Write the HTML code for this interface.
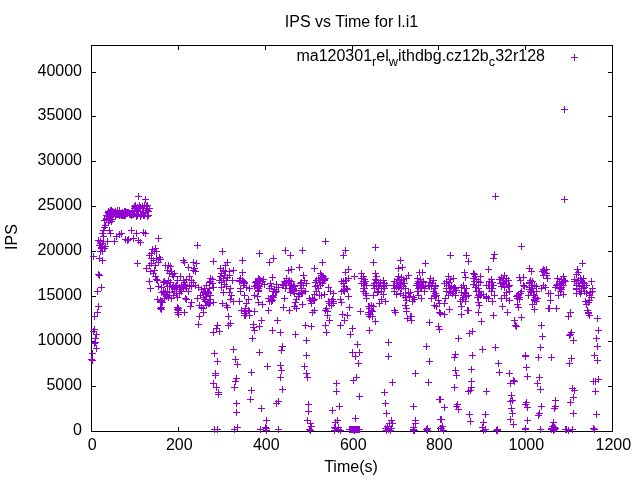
<!DOCTYPE html>
<html><head><meta charset="utf-8"><title>IPS vs Time</title>
<style>
html,body{margin:0;padding:0;background:#fff;}
svg{display:block;will-change:transform;}
text{font-family:"Liberation Sans",sans-serif;font-size:16px;fill:#000;}
</style></head>
<body>
<svg width="640" height="480" viewBox="0 0 640 480">
<rect width="640" height="480" fill="#fff"/>
<path d="M91.5,431.50h4.5M612.5,431.50h-4.5M91.5,386.50h4.5M612.5,386.50h-4.5M91.5,341.50h4.5M612.5,341.50h-4.5M91.5,296.50h4.5M612.5,296.50h-4.5M91.5,251.50h4.5M612.5,251.50h-4.5M91.5,206.50h4.5M612.5,206.50h-4.5M91.5,161.50h4.5M612.5,161.50h-4.5M91.5,116.50h4.5M612.5,116.50h-4.5M91.5,72.50h4.5M612.5,72.50h-4.5M91.50,431.5v-4.5M91.50,45.5v4.5M178.50,431.5v-4.5M178.50,45.5v4.5M265.50,431.5v-4.5M265.50,45.5v4.5M352.50,431.5v-4.5M352.50,45.5v4.5M438.50,431.5v-4.5M438.50,45.5v4.5M525.50,431.5v-4.5M525.50,45.5v4.5M612.50,431.5v-4.5M612.50,45.5v4.5" stroke="#000" stroke-width="1" fill="none"/>
<rect x="91.5" y="45.5" width="521.0" height="386.0" fill="none" stroke="#000" stroke-width="1"/>
<text x="82" y="434.85" text-anchor="end">0</text><text x="82" y="389.85" text-anchor="end">5000</text><text x="82" y="344.85" text-anchor="end">10000</text><text x="82" y="299.85" text-anchor="end">15000</text><text x="82" y="254.85" text-anchor="end">20000</text><text x="82" y="209.85" text-anchor="end">25000</text><text x="82" y="164.85" text-anchor="end">30000</text><text x="82" y="119.85" text-anchor="end">35000</text><text x="82" y="75.85" text-anchor="end">40000</text>
<text x="92.30" y="450" text-anchor="middle">0</text><text x="179.30" y="450" text-anchor="middle">200</text><text x="266.30" y="450" text-anchor="middle">400</text><text x="353.30" y="450" text-anchor="middle">600</text><text x="439.30" y="450" text-anchor="middle">800</text><text x="526.30" y="450" text-anchor="middle">1000</text><text x="613.30" y="450" text-anchor="middle">1200</text>
<text x="351.5" y="26.5" text-anchor="middle">IPS vs Time for l.i1</text>
<text x="545" y="60.5" text-anchor="end">ma120301<tspan font-size="12.8px" dy="5.1">r</tspan><tspan dy="-5.1">el</tspan><tspan font-size="12.8px" dy="5.1">w</tspan><tspan dy="-5.1">ithdbg.cz12b</tspan><tspan font-size="12.8px" dy="5.1">c</tspan><tspan dy="-5.1">32r128</tspan></text>
<text x="351" y="472" text-anchor="middle">Time(s)</text>
<text transform="translate(17,237) rotate(-90)" text-anchor="middle">IPS</text>
<path d="M571,57.5h7M574.5,54v7" stroke="#9400D3" stroke-width="1" fill="none"/>
<path d="M135,196.5h7M138.5,193v7M142,199.5h7M145.5,196v7M97,241.5h7M100.5,238v7M104,241.5h7M107.5,238v7M111,241.5h7M114.5,238v7M99,243.5h7M102.5,240v7M100,236.5h7M103.5,233v7M99,233.5h7M102.5,230v7M100,230.5h7M103.5,227v7M101,227.5h7M104.5,224v7M102,225.5h7M105.5,222v7M106,230.5h7M109.5,227v7M107,233.5h7M110.5,230v7M113,236.5h7M116.5,233v7M116,234.5h7M119.5,231v7M118,233.5h7M121.5,230v7M122,239.5h7M125.5,236v7M124,240.5h7M127.5,237v7M125,239.5h7M128.5,236v7M128,230.5h7M131.5,227v7M130,238.5h7M133.5,235v7M133,233.5h7M136.5,230v7M135,240.5h7M138.5,237v7M137,242.5h7M140.5,239v7M140,232.5h7M143.5,229v7M142,233.5h7M145.5,230v7M155,238.5h7M158.5,235v7M98,248.5h7M101.5,245v7M101,248.5h7M104.5,245v7M149,249.5h7M152.5,246v7M152,248.5h7M155.5,245v7M101,220.5h7M104.5,217v7M103,218.5h7M106.5,215v7M103,215.5h7M106.5,212v7M105,213.5h7M108.5,210v7M105,211.5h7M108.5,208v7M105,212.5h7M108.5,209v7M106,213.5h7M109.5,210v7M106,212.5h7M109.5,209v7M107,213.5h7M110.5,210v7M107,210.5h7M110.5,207v7M108,210.5h7M111.5,207v7M108,214.5h7M111.5,211v7M109,211.5h7M112.5,208v7M109,215.5h7M112.5,212v7M110,212.5h7M113.5,209v7M110,214.5h7M113.5,211v7M111,212.5h7M114.5,209v7M111,213.5h7M114.5,210v7M112,211.5h7M115.5,208v7M112,213.5h7M115.5,210v7M112,215.5h7M115.5,212v7M113,213.5h7M116.5,210v7M113,214.5h7M116.5,211v7M114,214.5h7M117.5,211v7M114,210.5h7M117.5,207v7M115,214.5h7M118.5,211v7M115,213.5h7M118.5,210v7M116,212.5h7M119.5,209v7M116,210.5h7M119.5,207v7M116,215.5h7M119.5,212v7M117,213.5h7M120.5,210v7M117,214.5h7M120.5,211v7M118,215.5h7M121.5,212v7M118,214.5h7M121.5,211v7M119,215.5h7M122.5,212v7M119,212.5h7M122.5,209v7M119,214.5h7M122.5,211v7M120,213.5h7M123.5,210v7M120,215.5h7M123.5,212v7M121,215.5h7M124.5,212v7M121,211.5h7M124.5,208v7M122,211.5h7M125.5,208v7M122,215.5h7M125.5,212v7M123,212.5h7M126.5,209v7M123,213.5h7M126.5,210v7M124,212.5h7M127.5,209v7M124,213.5h7M127.5,210v7M125,212.5h7M128.5,209v7M126,213.5h7M129.5,210v7M126,214.5h7M129.5,211v7M127,213.5h7M130.5,210v7M127,214.5h7M130.5,211v7M128,214.5h7M131.5,211v7M128,215.5h7M131.5,212v7M129,213.5h7M132.5,210v7M129,210.5h7M132.5,207v7M129,214.5h7M132.5,211v7M130,214.5h7M133.5,211v7M131,208.5h7M134.5,205v7M131,206.5h7M134.5,203v7M131,210.5h7M134.5,207v7M132,207.5h7M135.5,204v7M132,205.5h7M135.5,202v7M133,210.5h7M136.5,207v7M133,216.5h7M136.5,213v7M134,215.5h7M137.5,212v7M134,214.5h7M137.5,211v7M134,207.5h7M137.5,204v7M135,211.5h7M138.5,208v7M135,208.5h7M138.5,205v7M136,206.5h7M139.5,203v7M136,205.5h7M139.5,202v7M137,207.5h7M140.5,204v7M137,216.5h7M140.5,213v7M137,214.5h7M140.5,211v7M138,214.5h7M141.5,211v7M139,206.5h7M142.5,203v7M139,208.5h7M142.5,205v7M140,212.5h7M143.5,209v7M140,213.5h7M143.5,210v7M140,215.5h7M143.5,212v7M141,215.5h7M144.5,212v7M141,205.5h7M144.5,202v7M142,212.5h7M145.5,209v7M143,210.5h7M146.5,207v7M143,206.5h7M146.5,203v7M144,210.5h7M147.5,207v7M144,205.5h7M147.5,202v7M144,216.5h7M147.5,213v7M145,215.5h7M148.5,212v7M145,211.5h7M148.5,208v7M146,208.5h7M149.5,205v7M104,216.5h7M107.5,213v7M105,218.5h7M108.5,215v7M106,220.5h7M109.5,217v7M107,217.5h7M110.5,214v7M108,221.5h7M111.5,218v7M109,219.5h7M112.5,216v7M105,222.5h7M108.5,219v7M103,219.5h7M106.5,216v7M95,240.5h7M98.5,237v7M97,243.5h7M100.5,240v7M100,241.5h7M103.5,238v7M102,246.5h7M105.5,243v7M98,247.5h7M101.5,244v7M96,245.5h7M99.5,242v7M90,256.5h7M93.5,253v7M97,251.5h7M100.5,248v7M99,251.5h7M102.5,248v7M96,258.5h7M99.5,255v7M99,260.5h7M102.5,257v7M95,274.5h7M98.5,271v7M96,275.5h7M99.5,272v7M98,287.5h7M101.5,284v7M94,291.5h7M97.5,288v7M95,306.5h7M98.5,303v7M134,263.5h7M137.5,260v7M146,255.5h7M149.5,252v7M148,253.5h7M151.5,250v7M151,251.5h7M154.5,248v7M153,251.5h7M156.5,248v7M148,258.5h7M151.5,255v7M150,260.5h7M153.5,257v7M153,258.5h7M156.5,255v7M156,257.5h7M159.5,254v7M157,259.5h7M160.5,256v7M146,265.5h7M149.5,262v7M143,268.5h7M146.5,265v7M148,263.5h7M151.5,260v7M152,265.5h7M155.5,262v7M155,262.5h7M158.5,259v7M147,271.5h7M150.5,268v7M150,273.5h7M153.5,270v7M151,270.5h7M154.5,267v7M162,265.5h7M165.5,262v7M164,270.5h7M167.5,267v7M152,276.5h7M155.5,273v7M153,279.5h7M156.5,276v7M154,280.5h7M157.5,277v7M146,281.5h7M149.5,278v7M147,288.5h7M150.5,285v7M155,286.5h7M158.5,283v7M158,287.5h7M161.5,284v7M160,282.5h7M163.5,279v7M161,281.5h7M164.5,278v7M163,283.5h7M166.5,280v7M164,286.5h7M167.5,283v7M160,291.5h7M163.5,288v7M161,293.5h7M164.5,290v7M163,296.5h7M166.5,293v7M164,292.5h7M167.5,289v7M154,299.5h7M157.5,296v7M157,300.5h7M160.5,297v7M159,302.5h7M162.5,299v7M158,307.5h7M161.5,304v7M157,308.5h7M160.5,305v7M161,298.5h7M164.5,295v7M94,312.5h7M97.5,309v7M91,316.5h7M94.5,313v7M91,329.5h7M94.5,326v7M90,331.5h7M93.5,328v7M93,334.5h7M96.5,331v7M92,338.5h7M95.5,335v7M92,342.5h7M95.5,339v7M91,343.5h7M94.5,340v7M93,348.5h7M96.5,345v7M89,353.5h7M92.5,350v7M89,360.5h7M92.5,357v7M88,359.5h7M91.5,356v7M194,245.5h7M197.5,242v7M219,251.5h7M222.5,248v7M210,261.5h7M213.5,258v7M165,265.5h7M168.5,262v7M167,266.5h7M170.5,263v7M180,260.5h7M183.5,257v7M181,262.5h7M184.5,259v7M185,267.5h7M188.5,264v7M190,262.5h7M193.5,259v7M193,263.5h7M196.5,260v7M191,268.5h7M194.5,265v7M192,271.5h7M195.5,268v7M190,270.5h7M193.5,267v7M168,271.5h7M171.5,268v7M171,273.5h7M174.5,270v7M166,273.5h7M169.5,270v7M170,276.5h7M173.5,273v7M177,276.5h7M180.5,273v7M174,280.5h7M177.5,277v7M165,280.5h7M168.5,277v7M167,282.5h7M170.5,279v7M186,276.5h7M189.5,273v7M183,279.5h7M186.5,276v7M188,280.5h7M191.5,277v7M190,282.5h7M193.5,279v7M181,282.5h7M184.5,279v7M178,285.5h7M181.5,282v7M176,287.5h7M179.5,284v7M182,286.5h7M185.5,283v7M186,285.5h7M189.5,282v7M188,286.5h7M191.5,283v7M192,285.5h7M195.5,282v7M195,287.5h7M198.5,284v7M183,288.5h7M186.5,285v7M180,288.5h7M183.5,285v7M173,285.5h7M176.5,282v7M170,285.5h7M173.5,282v7M166,286.5h7M169.5,283v7M171,288.5h7M174.5,285v7M207,278.5h7M210.5,275v7M209,279.5h7M212.5,276v7M206,282.5h7M209.5,279v7M209,283.5h7M212.5,280v7M203,285.5h7M206.5,282v7M206,288.5h7M209.5,285v7M201,288.5h7M204.5,285v7M198,289.5h7M201.5,286v7M210,287.5h7M213.5,284v7M224,262.5h7M227.5,259v7M222,265.5h7M225.5,262v7M217,268.5h7M220.5,265v7M220,270.5h7M223.5,267v7M222,271.5h7M225.5,268v7M218,273.5h7M221.5,270v7M221,275.5h7M224.5,272v7M217,276.5h7M220.5,273v7M220,278.5h7M223.5,275v7M223,280.5h7M226.5,277v7M218,282.5h7M221.5,279v7M221,284.5h7M224.5,281v7M223,286.5h7M226.5,283v7M218,287.5h7M221.5,284v7M216,280.5h7M219.5,277v7M224,277.5h7M227.5,274v7M157,301.5h7M160.5,298v7M158,302.5h7M161.5,299v7M158,309.5h7M161.5,306v7M158,292.5h7M161.5,289v7M161,294.5h7M164.5,291v7M163,295.5h7M166.5,292v7M166,292.5h7M169.5,289v7M165,297.5h7M168.5,294v7M168,298.5h7M171.5,295v7M170,295.5h7M173.5,292v7M173,293.5h7M176.5,290v7M174,297.5h7M177.5,294v7M176,293.5h7M179.5,290v7M178,291.5h7M181.5,288v7M171,291.5h7M174.5,288v7M162,291.5h7M165.5,288v7M182,298.5h7M185.5,295v7M183,299.5h7M186.5,296v7M188,302.5h7M191.5,299v7M187,306.5h7M190.5,303v7M185,291.5h7M188.5,288v7M174,307.5h7M177.5,304v7M175,308.5h7M178.5,305v7M175,310.5h7M178.5,307v7M175,314.5h7M178.5,311v7M181,312.5h7M184.5,309v7M194,298.5h7M197.5,295v7M197,295.5h7M200.5,292v7M200,292.5h7M203.5,289v7M202,291.5h7M205.5,288v7M205,293.5h7M208.5,290v7M207,295.5h7M210.5,292v7M203,296.5h7M206.5,293v7M200,297.5h7M203.5,294v7M201,299.5h7M204.5,296v7M206,299.5h7M209.5,296v7M207,302.5h7M210.5,299v7M210,302.5h7M213.5,299v7M205,303.5h7M208.5,300v7M203,305.5h7M206.5,302v7M196,305.5h7M199.5,302v7M198,307.5h7M201.5,304v7M200,308.5h7M203.5,305v7M200,312.5h7M203.5,309v7M196,316.5h7M199.5,313v7M195,324.5h7M198.5,321v7M220,292.5h7M223.5,289v7M219,303.5h7M222.5,300v7M223,305.5h7M226.5,302v7M224,307.5h7M227.5,304v7M225,316.5h7M228.5,313v7M225,325.5h7M228.5,322v7M214,325.5h7M217.5,322v7M213,328.5h7M216.5,325v7M210,332.5h7M213.5,329v7M216,331.5h7M219.5,328v7M211,353.5h7M214.5,350v7M214,361.5h7M217.5,358v7M212,373.5h7M215.5,370v7M212,375.5h7M215.5,372v7M210,383.5h7M213.5,380v7M213,387.5h7M216.5,384v7M215,392.5h7M218.5,389v7M215,394.5h7M218.5,391v7M230,349.5h7M233.5,346v7M232,359.5h7M235.5,356v7M234,364.5h7M237.5,361v7M233,378.5h7M236.5,375v7M232,381.5h7M235.5,378v7M231,387.5h7M234.5,384v7M256,352.5h7M259.5,349v7M248,372.5h7M251.5,369v7M248,390.5h7M251.5,387v7M247,399.5h7M250.5,396v7M264,366.5h7M267.5,363v7M233,403.5h7M236.5,400v7M233,412.5h7M236.5,409v7M258,408.5h7M261.5,405v7M263,420.5h7M266.5,417v7M211,429.5h7M214.5,426v7M214,429.5h7M217.5,426v7M231,429.5h7M234.5,426v7M234,427.5h7M237.5,424v7M257,429.5h7M260.5,426v7M262,427.5h7M265.5,424v7M263,428.5h7M266.5,425v7M263,430.5h7M266.5,427v7M275,429.5h7M278.5,426v7M275,401.5h7M278.5,398v7M273,403.5h7M276.5,400v7M279,346.5h7M282.5,343v7M278,350.5h7M281.5,347v7M277,365.5h7M280.5,362v7M278,370.5h7M281.5,367v7M277,377.5h7M280.5,374v7M279,389.5h7M282.5,386v7M303,340.5h7M306.5,337v7M303,355.5h7M306.5,352v7M301,366.5h7M304.5,363v7M303,373.5h7M306.5,370v7M304,377.5h7M307.5,374v7M333,383.5h7M336.5,380v7M333,391.5h7M336.5,388v7M354,344.5h7M357.5,341v7M349,352.5h7M352.5,349v7M352,356.5h7M355.5,353v7M356,352.5h7M359.5,349v7M355,363.5h7M358.5,360v7M353,377.5h7M356.5,374v7M350,380.5h7M353.5,377v7M356,396.5h7M359.5,393v7M305,404.5h7M308.5,401v7M305,411.5h7M308.5,408v7M304,420.5h7M307.5,417v7M307,423.5h7M310.5,420v7M308,426.5h7M311.5,423v7M306,429.5h7M309.5,426v7M307,430.5h7M310.5,427v7M336,406.5h7M339.5,403v7M329,410.5h7M332.5,407v7M334,420.5h7M337.5,417v7M332,422.5h7M335.5,419v7M332,428.5h7M335.5,425v7M331,430.5h7M334.5,427v7M335,427.5h7M338.5,424v7M337,430.5h7M340.5,427v7M335,429.5h7M338.5,426v7M352,418.5h7M355.5,415v7M346,429.5h7M349.5,426v7M347,429.5h7M350.5,426v7M348,429.5h7M351.5,426v7M349,429.5h7M352.5,426v7M350,429.5h7M353.5,426v7M351,429.5h7M354.5,426v7M352,429.5h7M355.5,426v7M353,429.5h7M356.5,426v7M354,429.5h7M357.5,426v7M355,429.5h7M358.5,426v7M356,429.5h7M359.5,426v7M385,342.5h7M388.5,339v7M385,356.5h7M388.5,353v7M389,382.5h7M392.5,379v7M381,392.5h7M384.5,389v7M423,346.5h7M426.5,343v7M426,361.5h7M429.5,358v7M412,373.5h7M415.5,370v7M425,382.5h7M428.5,379v7M436,399.5h7M439.5,396v7M382,403.5h7M385.5,400v7M383,413.5h7M386.5,410v7M388,420.5h7M391.5,417v7M389,423.5h7M392.5,420v7M386,423.5h7M389.5,420v7M384,426.5h7M387.5,423v7M382,428.5h7M385.5,425v7M385,429.5h7M388.5,426v7M387,430.5h7M390.5,427v7M383,430.5h7M386.5,427v7M410,406.5h7M413.5,403v7M412,420.5h7M415.5,417v7M412,423.5h7M415.5,420v7M410,427.5h7M413.5,424v7M410,430.5h7M413.5,427v7M411,430.5h7M414.5,427v7M424,428.5h7M427.5,425v7M424,430.5h7M427.5,427v7M423,429.5h7M426.5,426v7M437,419.5h7M440.5,416v7M437,428.5h7M440.5,425v7M452,354.5h7M455.5,351v7M451,357.5h7M454.5,354v7M452,370.5h7M455.5,367v7M453,375.5h7M456.5,372v7M451,387.5h7M454.5,384v7M437,399.5h7M440.5,396v7M469,355.5h7M472.5,352v7M468,369.5h7M471.5,366v7M468,381.5h7M471.5,378v7M468,387.5h7M471.5,384v7M465,391.5h7M468.5,388v7M467,390.5h7M470.5,387v7M479,349.5h7M482.5,346v7M492,347.5h7M495.5,344v7M495,363.5h7M498.5,360v7M496,372.5h7M499.5,369v7M483,391.5h7M486.5,388v7M506,373.5h7M509.5,370v7M510,380.5h7M513.5,377v7M511,381.5h7M514.5,378v7M507,383.5h7M510.5,380v7M508,395.5h7M511.5,392v7M441,407.5h7M444.5,404v7M438,419.5h7M441.5,416v7M439,426.5h7M442.5,423v7M438,428.5h7M441.5,425v7M440,430.5h7M443.5,427v7M454,404.5h7M457.5,401v7M453,406.5h7M456.5,403v7M455,409.5h7M458.5,406v7M466,414.5h7M469.5,411v7M467,421.5h7M470.5,418v7M482,414.5h7M485.5,411v7M480,422.5h7M483.5,419v7M479,427.5h7M482.5,424v7M482,429.5h7M485.5,426v7M480,430.5h7M483.5,427v7M494,429.5h7M497.5,426v7M494,430.5h7M497.5,427v7M493,430.5h7M496.5,427v7M507,401.5h7M510.5,398v7M509,400.5h7M512.5,397v7M508,408.5h7M511.5,405v7M509,413.5h7M512.5,410v7M507,419.5h7M510.5,416v7M510,424.5h7M513.5,421v7M522,355.5h7M525.5,352v7M522,356.5h7M525.5,353v7M523,367.5h7M526.5,364v7M524,376.5h7M527.5,373v7M537,347.5h7M540.5,344v7M535,357.5h7M538.5,354v7M536,377.5h7M539.5,374v7M534,383.5h7M537.5,380v7M537,389.5h7M540.5,386v7M548,357.5h7M551.5,354v7M570,340.5h7M573.5,337v7M568,358.5h7M571.5,355v7M566,363.5h7M569.5,360v7M569,388.5h7M572.5,385v7M571,390.5h7M574.5,387v7M570,397.5h7M573.5,394v7M594,346.5h7M597.5,343v7M591,355.5h7M594.5,352v7M594,360.5h7M597.5,357v7M590,381.5h7M593.5,378v7M592,381.5h7M595.5,378v7M595,379.5h7M598.5,376v7M592,391.5h7M595.5,388v7M523,402.5h7M526.5,399v7M522,404.5h7M525.5,401v7M524,407.5h7M527.5,404v7M524,420.5h7M527.5,417v7M522,429.5h7M525.5,426v7M522,428.5h7M525.5,425v7M538,406.5h7M541.5,403v7M536,413.5h7M539.5,410v7M535,415.5h7M538.5,412v7M537,429.5h7M540.5,426v7M552,400.5h7M555.5,397v7M552,406.5h7M555.5,403v7M551,408.5h7M554.5,405v7M550,422.5h7M553.5,419v7M549,426.5h7M552.5,423v7M551,427.5h7M554.5,424v7M548,429.5h7M551.5,426v7M550,430.5h7M553.5,427v7M552,428.5h7M555.5,425v7M567,402.5h7M570.5,399v7M570,413.5h7M573.5,410v7M562,429.5h7M565.5,426v7M563,429.5h7M566.5,426v7M565,430.5h7M568.5,427v7M569,429.5h7M572.5,426v7M593,414.5h7M596.5,411v7M590,428.5h7M593.5,425v7M591,429.5h7M594.5,426v7M568,332.5h7M571.5,329v7M566,335.5h7M569.5,332v7M567,334.5h7M570.5,331v7M595,330.5h7M598.5,327v7M593,338.5h7M596.5,335v7M594,318.5h7M597.5,315v7M256,253.5h7M259.5,250v7M239,260.5h7M242.5,257v7M270,258.5h7M273.5,255v7M266,262.5h7M269.5,259v7M282,250.5h7M285.5,247v7M287,255.5h7M290.5,252v7M299,250.5h7M302.5,247v7M296,267.5h7M299.5,264v7M288,269.5h7M291.5,266v7M285,270.5h7M288.5,267v7M269,277.5h7M272.5,274v7M300,275.5h7M303.5,272v7M230,270.5h7M233.5,267v7M239,272.5h7M242.5,269v7M229,280.5h7M232.5,277v7M226,275.5h7M229.5,272v7M237,278.5h7M240.5,275v7M239,280.5h7M242.5,277v7M236,281.5h7M239.5,278v7M241,282.5h7M244.5,279v7M240,285.5h7M243.5,282v7M243,287.5h7M246.5,284v7M246,288.5h7M249.5,285v7M237,288.5h7M240.5,285v7M255,278.5h7M258.5,275v7M253,281.5h7M256.5,278v7M257,280.5h7M260.5,277v7M260,279.5h7M263.5,276v7M259,281.5h7M262.5,278v7M256,283.5h7M259.5,280v7M253,285.5h7M256.5,282v7M261,284.5h7M264.5,281v7M251,286.5h7M254.5,283v7M255,288.5h7M258.5,285v7M267,283.5h7M270.5,280v7M273,284.5h7M276.5,281v7M268,286.5h7M271.5,283v7M275,287.5h7M278.5,284v7M266,288.5h7M269.5,285v7M271,289.5h7M274.5,286v7M283,278.5h7M286.5,275v7M286,280.5h7M289.5,277v7M281,281.5h7M284.5,278v7M285,282.5h7M288.5,279v7M288,281.5h7M291.5,278v7M283,285.5h7M286.5,282v7M287,285.5h7M290.5,282v7M280,285.5h7M283.5,282v7M290,285.5h7M293.5,282v7M282,288.5h7M285.5,285v7M286,288.5h7M289.5,285v7M290,288.5h7M293.5,285v7M298,282.5h7M301.5,279v7M301,280.5h7M304.5,277v7M297,285.5h7M300.5,282v7M300,285.5h7M303.5,282v7M303,283.5h7M306.5,280v7M298,288.5h7M301.5,285v7M227,288.5h7M230.5,285v7M226,271.5h7M229.5,268v7M226,292.5h7M229.5,289v7M228,295.5h7M231.5,292v7M227,299.5h7M230.5,296v7M230,301.5h7M233.5,298v7M227,323.5h7M230.5,320v7M237,291.5h7M240.5,288v7M241,295.5h7M244.5,292v7M236,301.5h7M239.5,298v7M238,310.5h7M241.5,307v7M245,299.5h7M248.5,296v7M243,303.5h7M246.5,300v7M242,308.5h7M245.5,305v7M245,310.5h7M248.5,307v7M243,313.5h7M246.5,310v7M246,315.5h7M249.5,312v7M241,313.5h7M244.5,310v7M251,311.5h7M254.5,308v7M251,295.5h7M254.5,292v7M254,296.5h7M257.5,293v7M255,302.5h7M258.5,299v7M255,291.5h7M258.5,288v7M259,304.5h7M262.5,301v7M265,298.5h7M268.5,295v7M266,301.5h7M269.5,298v7M268,299.5h7M271.5,296v7M270,295.5h7M273.5,292v7M272,292.5h7M275.5,289v7M273,291.5h7M276.5,288v7M269,296.5h7M272.5,293v7M265,310.5h7M268.5,307v7M281,298.5h7M284.5,295v7M280,307.5h7M283.5,304v7M286,310.5h7M289.5,307v7M287,292.5h7M290.5,289v7M290,291.5h7M293.5,288v7M293,308.5h7M296.5,305v7M291,306.5h7M294.5,303v7M292,302.5h7M295.5,299v7M293,299.5h7M296.5,296v7M295,296.5h7M298.5,293v7M296,294.5h7M299.5,291v7M298,292.5h7M301.5,289v7M299,304.5h7M302.5,301v7M302,291.5h7M305.5,288v7M258,320.5h7M261.5,317v7M250,324.5h7M253.5,321v7M250,327.5h7M253.5,324v7M256,326.5h7M259.5,323v7M251,330.5h7M254.5,327v7M249,338.5h7M252.5,335v7M269,330.5h7M272.5,327v7M274,320.5h7M277.5,317v7M277,332.5h7M280.5,329v7M292,334.5h7M295.5,331v7M302,325.5h7M305.5,322v7M322,241.5h7M325.5,238v7M342,250.5h7M345.5,247v7M340,255.5h7M343.5,252v7M372,247.5h7M375.5,244v7M319,262.5h7M322.5,259v7M311,268.5h7M314.5,265v7M370,262.5h7M373.5,259v7M345,269.5h7M348.5,266v7M342,272.5h7M345.5,269v7M351,276.5h7M354.5,273v7M358,273.5h7M361.5,270v7M372,273.5h7M375.5,270v7M318,275.5h7M321.5,272v7M315,278.5h7M318.5,275v7M320,278.5h7M323.5,275v7M313,280.5h7M316.5,277v7M317,280.5h7M320.5,277v7M321,280.5h7M324.5,277v7M312,282.5h7M315.5,279v7M316,282.5h7M319.5,279v7M319,283.5h7M322.5,280v7M314,285.5h7M317.5,282v7M317,285.5h7M320.5,282v7M312,286.5h7M315.5,283v7M315,288.5h7M318.5,285v7M325,287.5h7M328.5,284v7M322,278.5h7M325.5,275v7M345,278.5h7M348.5,275v7M342,280.5h7M345.5,277v7M340,281.5h7M343.5,278v7M338,281.5h7M341.5,278v7M343,280.5h7M346.5,277v7M341,286.5h7M344.5,283v7M343,288.5h7M346.5,285v7M341,289.5h7M344.5,286v7M340,283.5h7M343.5,280v7M360,276.5h7M363.5,273v7M358,278.5h7M361.5,275v7M361,279.5h7M364.5,276v7M360,281.5h7M363.5,278v7M362,281.5h7M365.5,278v7M358,283.5h7M361.5,280v7M361,285.5h7M364.5,282v7M363,285.5h7M366.5,282v7M360,288.5h7M363.5,285v7M361,288.5h7M364.5,285v7M373,276.5h7M376.5,273v7M372,279.5h7M375.5,276v7M380,280.5h7M383.5,277v7M377,282.5h7M380.5,279v7M375,283.5h7M378.5,280v7M371,283.5h7M374.5,280v7M381,283.5h7M384.5,280v7M370,285.5h7M373.5,282v7M373,286.5h7M376.5,283v7M376,285.5h7M379.5,282v7M380,286.5h7M383.5,283v7M383,285.5h7M386.5,282v7M371,288.5h7M374.5,285v7M375,288.5h7M378.5,285v7M378,288.5h7M381.5,285v7M381,288.5h7M384.5,285v7M313,291.5h7M316.5,288v7M311,294.5h7M314.5,291v7M316,295.5h7M319.5,292v7M318,295.5h7M321.5,292v7M321,294.5h7M324.5,291v7M309,298.5h7M312.5,295v7M311,299.5h7M314.5,296v7M307,300.5h7M310.5,297v7M308,303.5h7M311.5,300v7M311,310.5h7M314.5,307v7M309,312.5h7M312.5,309v7M308,326.5h7M311.5,323v7M327,291.5h7M330.5,288v7M330,293.5h7M333.5,290v7M325,301.5h7M328.5,298v7M328,301.5h7M331.5,298v7M330,301.5h7M333.5,298v7M326,303.5h7M329.5,300v7M328,305.5h7M331.5,302v7M323,308.5h7M326.5,305v7M322,310.5h7M325.5,307v7M324,311.5h7M327.5,308v7M324,315.5h7M327.5,312v7M326,320.5h7M329.5,317v7M322,325.5h7M325.5,322v7M323,332.5h7M326.5,329v7M338,291.5h7M341.5,288v7M341,291.5h7M344.5,288v7M337,299.5h7M340.5,296v7M338,302.5h7M341.5,299v7M345,296.5h7M348.5,293v7M339,314.5h7M342.5,311v7M344,315.5h7M347.5,312v7M346,307.5h7M349.5,304v7M341,320.5h7M344.5,317v7M337,325.5h7M340.5,322v7M349,328.5h7M352.5,325v7M347,334.5h7M350.5,331v7M360,291.5h7M363.5,288v7M362,293.5h7M365.5,290v7M363,295.5h7M366.5,292v7M363,298.5h7M366.5,295v7M370,295.5h7M373.5,292v7M375,291.5h7M378.5,288v7M378,291.5h7M381.5,288v7M380,294.5h7M383.5,291v7M378,299.5h7M381.5,296v7M382,301.5h7M385.5,298v7M376,303.5h7M379.5,300v7M357,311.5h7M360.5,308v7M366,306.5h7M369.5,303v7M368,305.5h7M371.5,302v7M370,306.5h7M373.5,303v7M366,308.5h7M369.5,305v7M368,310.5h7M371.5,307v7M365,312.5h7M368.5,309v7M367,314.5h7M370.5,311v7M369,316.5h7M372.5,313v7M366,316.5h7M369.5,313v7M372,321.5h7M375.5,318v7M366,330.5h7M369.5,327v7M397,260.5h7M400.5,257v7M422,263.5h7M425.5,260v7M447,255.5h7M450.5,252v7M463,255.5h7M466.5,252v7M399,267.5h7M402.5,264v7M395,268.5h7M398.5,265v7M405,275.5h7M408.5,272v7M419,272.5h7M422.5,269v7M416,272.5h7M419.5,269v7M461,272.5h7M464.5,269v7M462,277.5h7M465.5,274v7M395,276.5h7M398.5,273v7M398,277.5h7M401.5,274v7M394,279.5h7M397.5,276v7M396,280.5h7M399.5,277v7M400,279.5h7M403.5,276v7M391,281.5h7M394.5,278v7M393,283.5h7M396.5,280v7M397,283.5h7M400.5,280v7M401,283.5h7M404.5,280v7M390,285.5h7M393.5,282v7M393,286.5h7M396.5,283v7M396,286.5h7M399.5,283v7M400,286.5h7M403.5,283v7M403,278.5h7M406.5,275v7M398,288.5h7M401.5,285v7M391,288.5h7M394.5,285v7M402,288.5h7M405.5,285v7M414,278.5h7M417.5,275v7M417,279.5h7M420.5,276v7M415,281.5h7M418.5,278v7M418,282.5h7M421.5,279v7M420,281.5h7M423.5,278v7M413,285.5h7M416.5,282v7M416,285.5h7M419.5,282v7M419,285.5h7M422.5,282v7M422,285.5h7M425.5,282v7M415,288.5h7M418.5,285v7M418,288.5h7M421.5,285v7M421,288.5h7M424.5,285v7M427,278.5h7M430.5,275v7M430,280.5h7M433.5,277v7M426,282.5h7M429.5,279v7M429,283.5h7M432.5,280v7M432,286.5h7M435.5,283v7M428,286.5h7M431.5,283v7M425,285.5h7M428.5,282v7M431,288.5h7M434.5,285v7M445,276.5h7M448.5,273v7M450,278.5h7M453.5,275v7M447,279.5h7M450.5,276v7M443,281.5h7M446.5,278v7M446,282.5h7M449.5,279v7M441,283.5h7M444.5,280v7M445,285.5h7M448.5,282v7M448,286.5h7M451.5,283v7M450,288.5h7M453.5,285v7M443,288.5h7M446.5,285v7M452,288.5h7M455.5,285v7M446,288.5h7M449.5,285v7M460,285.5h7M463.5,282v7M458,287.5h7M461.5,284v7M461,288.5h7M464.5,285v7M463,288.5h7M466.5,285v7M391,291.5h7M394.5,288v7M393,294.5h7M396.5,291v7M397,293.5h7M400.5,290v7M400,295.5h7M403.5,292v7M402,297.5h7M405.5,294v7M405,293.5h7M408.5,290v7M407,292.5h7M410.5,289v7M406,296.5h7M409.5,293v7M410,297.5h7M413.5,294v7M411,299.5h7M414.5,296v7M403,300.5h7M406.5,297v7M409,301.5h7M412.5,298v7M402,305.5h7M405.5,302v7M403,308.5h7M406.5,305v7M403,311.5h7M406.5,308v7M415,295.5h7M418.5,292v7M418,298.5h7M421.5,295v7M421,291.5h7M424.5,288v7M414,291.5h7M417.5,288v7M391,310.5h7M394.5,307v7M392,312.5h7M395.5,309v7M404,318.5h7M407.5,315v7M407,316.5h7M410.5,313v7M408,316.5h7M411.5,313v7M408,320.5h7M411.5,317v7M428,298.5h7M431.5,295v7M431,295.5h7M434.5,292v7M433,295.5h7M436.5,292v7M430,291.5h7M433.5,288v7M435,300.5h7M438.5,297v7M436,303.5h7M439.5,300v7M431,305.5h7M434.5,302v7M433,306.5h7M436.5,303v7M436,312.5h7M439.5,309v7M437,313.5h7M440.5,310v7M441,314.5h7M444.5,311v7M441,303.5h7M444.5,300v7M446,309.5h7M449.5,306v7M442,298.5h7M445.5,295v7M445,295.5h7M448.5,292v7M447,292.5h7M450.5,289v7M450,291.5h7M453.5,288v7M452,295.5h7M455.5,292v7M443,291.5h7M446.5,288v7M458,292.5h7M461.5,289v7M461,293.5h7M464.5,290v7M460,297.5h7M463.5,294v7M457,301.5h7M460.5,298v7M458,306.5h7M461.5,303v7M462,301.5h7M465.5,298v7M463,296.5h7M466.5,293v7M458,314.5h7M461.5,311v7M464,310.5h7M467.5,307v7M426,322.5h7M429.5,319v7M435,326.5h7M438.5,323v7M436,329.5h7M439.5,326v7M455,338.5h7M458.5,335v7M518,246.5h7M521.5,243v7M491,254.5h7M494.5,251v7M490,258.5h7M493.5,255v7M465,261.5h7M468.5,258v7M485,269.5h7M488.5,266v7M526,268.5h7M529.5,265v7M528,271.5h7M531.5,268v7M470,273.5h7M473.5,270v7M472,276.5h7M475.5,273v7M477,276.5h7M480.5,273v7M470,278.5h7M473.5,275v7M473,279.5h7M476.5,276v7M471,281.5h7M474.5,278v7M475,281.5h7M478.5,278v7M470,284.5h7M473.5,281v7M473,285.5h7M476.5,282v7M477,282.5h7M480.5,279v7M472,287.5h7M475.5,284v7M475,288.5h7M478.5,285v7M488,279.5h7M491.5,276v7M486,281.5h7M489.5,278v7M489,282.5h7M492.5,279v7M485,285.5h7M488.5,282v7M488,285.5h7M491.5,282v7M490,285.5h7M493.5,282v7M486,288.5h7M489.5,285v7M489,288.5h7M492.5,285v7M483,285.5h7M486.5,282v7M501,275.5h7M504.5,272v7M498,277.5h7M501.5,274v7M500,278.5h7M503.5,275v7M503,278.5h7M506.5,275v7M496,279.5h7M499.5,276v7M499,280.5h7M502.5,277v7M502,281.5h7M505.5,278v7M505,280.5h7M508.5,277v7M497,283.5h7M500.5,280v7M500,283.5h7M503.5,280v7M503,284.5h7M506.5,281v7M498,286.5h7M501.5,283v7M501,287.5h7M504.5,284v7M505,286.5h7M508.5,283v7M506,285.5h7M509.5,282v7M516,277.5h7M519.5,274v7M520,277.5h7M523.5,274v7M517,280.5h7M520.5,277v7M520,285.5h7M523.5,282v7M521,286.5h7M524.5,283v7M527,280.5h7M530.5,277v7M529,281.5h7M532.5,278v7M526,283.5h7M529.5,280v7M528,285.5h7M531.5,282v7M531,285.5h7M534.5,282v7M533,286.5h7M536.5,283v7M526,287.5h7M529.5,284v7M529,288.5h7M532.5,285v7M541,270.5h7M544.5,267v7M543,269.5h7M546.5,266v7M539,271.5h7M542.5,268v7M541,272.5h7M544.5,269v7M543,273.5h7M546.5,270v7M540,275.5h7M543.5,272v7M543,275.5h7M546.5,272v7M544,278.5h7M547.5,275v7M540,285.5h7M543.5,282v7M542,287.5h7M545.5,284v7M538,288.5h7M541.5,285v7M473,291.5h7M476.5,288v7M476,291.5h7M479.5,288v7M475,295.5h7M478.5,292v7M477,295.5h7M480.5,292v7M474,297.5h7M477.5,294v7M480,294.5h7M483.5,291v7M483,296.5h7M486.5,293v7M485,298.5h7M488.5,295v7M483,298.5h7M486.5,295v7M488,291.5h7M491.5,288v7M491,295.5h7M494.5,292v7M489,301.5h7M492.5,298v7M475,302.5h7M478.5,299v7M476,305.5h7M479.5,302v7M475,312.5h7M478.5,309v7M465,295.5h7M468.5,292v7M465,310.5h7M468.5,307v7M469,331.5h7M472.5,328v7M466,333.5h7M469.5,330v7M478,321.5h7M481.5,318v7M490,315.5h7M493.5,312v7M499,306.5h7M502.5,303v7M504,312.5h7M507.5,309v7M498,298.5h7M501.5,295v7M501,295.5h7M504.5,292v7M503,292.5h7M506.5,289v7M506,291.5h7M509.5,288v7M503,298.5h7M506.5,295v7M506,300.5h7M509.5,297v7M513,296.5h7M516.5,293v7M515,295.5h7M518.5,292v7M517,293.5h7M520.5,290v7M516,297.5h7M519.5,294v7M518,291.5h7M521.5,288v7M514,304.5h7M517.5,301v7M515,307.5h7M518.5,304v7M518,317.5h7M521.5,314v7M511,320.5h7M514.5,317v7M512,325.5h7M515.5,322v7M513,326.5h7M516.5,323v7M525,295.5h7M528.5,292v7M527,291.5h7M530.5,288v7M530,291.5h7M533.5,288v7M533,291.5h7M536.5,288v7M530,295.5h7M533.5,292v7M532,297.5h7M535.5,294v7M534,298.5h7M537.5,295v7M531,300.5h7M534.5,297v7M533,301.5h7M536.5,298v7M529,304.5h7M532.5,301v7M531,309.5h7M534.5,306v7M538,325.5h7M541.5,322v7M539,336.5h7M542.5,333v7M545,293.5h7M548.5,290v7M545,308.5h7M548.5,305v7M579,263.5h7M582.5,260v7M574,269.5h7M577.5,266v7M575,272.5h7M578.5,269v7M573,274.5h7M576.5,271v7M560,276.5h7M563.5,273v7M554,278.5h7M557.5,275v7M558,279.5h7M561.5,276v7M561,280.5h7M564.5,277v7M556,281.5h7M559.5,278v7M559,282.5h7M562.5,279v7M553,285.5h7M556.5,282v7M557,285.5h7M560.5,282v7M560,285.5h7M563.5,282v7M552,287.5h7M555.5,284v7M556,288.5h7M559.5,285v7M558,287.5h7M561.5,284v7M577,278.5h7M580.5,275v7M580,278.5h7M583.5,275v7M575,280.5h7M578.5,277v7M578,280.5h7M581.5,277v7M571,281.5h7M574.5,278v7M575,283.5h7M578.5,280v7M579,282.5h7M582.5,279v7M581,283.5h7M584.5,280v7M573,285.5h7M576.5,282v7M576,286.5h7M579.5,283v7M580,285.5h7M583.5,282v7M583,285.5h7M586.5,282v7M573,288.5h7M576.5,285v7M576,288.5h7M579.5,285v7M580,288.5h7M583.5,285v7M581,287.5h7M584.5,284v7M588,281.5h7M591.5,278v7M589,288.5h7M592.5,285v7M547,293.5h7M550.5,290v7M547,300.5h7M550.5,297v7M546,308.5h7M549.5,305v7M553,308.5h7M556.5,305v7M555,295.5h7M558.5,292v7M560,294.5h7M563.5,291v7M557,291.5h7M560.5,288v7M567,312.5h7M570.5,309v7M565,316.5h7M568.5,313v7M573,293.5h7M576.5,290v7M576,291.5h7M579.5,288v7M578,291.5h7M581.5,288v7M581,291.5h7M584.5,288v7M583,293.5h7M586.5,290v7M587,292.5h7M590.5,289v7M589,291.5h7M592.5,288v7M586,295.5h7M589.5,292v7M588,297.5h7M591.5,294v7M582,301.5h7M585.5,298v7M585,302.5h7M588.5,299v7M583,304.5h7M586.5,301v7M586,300.5h7M589.5,297v7M584,310.5h7M587.5,307v7M585,312.5h7M588.5,309v7M586,315.5h7M589.5,312v7M585,313.5h7M588.5,310v7M492,196.5h7M495.5,193v7M561,199.5h7M564.5,196v7M561,109.5h7M564.5,106v7M169,287.5h7M172.5,284v7M169,274.5h7M172.5,271v7M172,286.5h7M175.5,283v7M177,289.5h7M180.5,286v7M181,284.5h7M184.5,281v7M180,280.5h7M183.5,277v7M171,289.5h7M174.5,286v7M174,309.5h7M177.5,306v7M174,312.5h7M177.5,309v7M206,303.5h7M209.5,300v7M202,294.5h7M205.5,291v7M205,302.5h7M208.5,299v7M207,281.5h7M210.5,278v7M204,291.5h7M207.5,288v7M204,302.5h7M207.5,299v7M202,301.5h7M205.5,298v7M202,293.5h7M205.5,290v7M205,292.5h7M208.5,289v7M237,280.5h7M240.5,277v7M240,281.5h7M243.5,278v7M241,315.5h7M244.5,312v7M241,283.5h7M244.5,280v7M240,282.5h7M243.5,279v7M236,280.5h7M239.5,277v7M241,311.5h7M244.5,308v7M246,311.5h7M249.5,308v7M242,315.5h7M245.5,312v7M252,282.5h7M255.5,279v7M256,286.5h7M259.5,283v7M256,279.5h7M259.5,276v7M255,290.5h7M258.5,287v7M255,285.5h7M258.5,282v7M255,281.5h7M258.5,278v7M254,287.5h7M257.5,284v7M279,284.5h7M282.5,281v7M268,301.5h7M271.5,298v7M270,291.5h7M273.5,288v7M269,300.5h7M272.5,297v7M286,281.5h7M289.5,278v7M270,297.5h7M273.5,294v7M282,283.5h7M285.5,280v7M289,287.5h7M292.5,284v7M306,298.5h7M309.5,295v7M291,290.5h7M294.5,287v7M297,283.5h7M300.5,280v7M290,289.5h7M293.5,286v7M299,293.5h7M302.5,290v7M291,286.5h7M294.5,283v7M291,293.5h7M294.5,290v7M298,290.5h7M301.5,287v7M320,280.5h7M323.5,277v7M317,273.5h7M320.5,270v7M321,279.5h7M324.5,276v7M320,276.5h7M323.5,273v7M319,277.5h7M322.5,274v7M310,300.5h7M313.5,297v7M331,427.5h7M334.5,424v7M340,290.5h7M343.5,287v7M344,289.5h7M347.5,286v7M329,299.5h7M332.5,296v7M330,303.5h7M333.5,300v7M361,283.5h7M364.5,280v7M351,430.5h7M354.5,427v7M365,314.5h7M368.5,311v7M365,306.5h7M368.5,303v7M373,280.5h7M376.5,277v7M388,428.5h7M391.5,425v7M369,311.5h7M372.5,308v7M374,292.5h7M377.5,289v7M405,292.5h7M408.5,289v7M395,287.5h7M398.5,284v7M398,282.5h7M401.5,279v7M397,282.5h7M400.5,279v7M394,285.5h7M397.5,282v7M397,284.5h7M400.5,281v7M410,429.5h7M413.5,426v7M418,286.5h7M421.5,283v7M426,286.5h7M429.5,283v7M417,287.5h7M420.5,284v7M414,283.5h7M417.5,280v7M432,285.5h7M435.5,282v7M432,293.5h7M435.5,290v7M432,296.5h7M435.5,293v7M462,292.5h7M465.5,289v7M459,299.5h7M462.5,296v7M449,293.5h7M452.5,290v7M460,295.5h7M463.5,292v7M451,287.5h7M454.5,284v7M447,288.5h7M450.5,285v7M453,290.5h7M456.5,287v7M483,297.5h7M486.5,294v7M478,294.5h7M481.5,291v7M471,274.5h7M474.5,271v7M476,294.5h7M479.5,291v7M499,282.5h7M502.5,279v7M526,282.5h7M529.5,279v7M514,295.5h7M517.5,292v7M528,292.5h7M531.5,289v7M514,298.5h7M517.5,295v7M526,289.5h7M529.5,286v7M516,299.5h7M519.5,296v7M531,299.5h7M534.5,296v7M532,299.5h7M535.5,296v7M531,295.5h7M534.5,292v7M540,269.5h7M543.5,266v7M558,289.5h7M561.5,286v7M551,429.5h7M554.5,426v7M551,428.5h7M554.5,425v7M560,281.5h7M563.5,278v7M550,429.5h7M553.5,426v7M548,428.5h7M551.5,425v7M554,284.5h7M557.5,281v7M556,283.5h7M559.5,280v7M562,281.5h7M565.5,278v7M577,293.5h7M580.5,290v7M571,279.5h7M574.5,276v7M573,289.5h7M576.5,286v7" stroke="#9400D3" stroke-width="1" fill="none"/>
</svg>
</body></html>
